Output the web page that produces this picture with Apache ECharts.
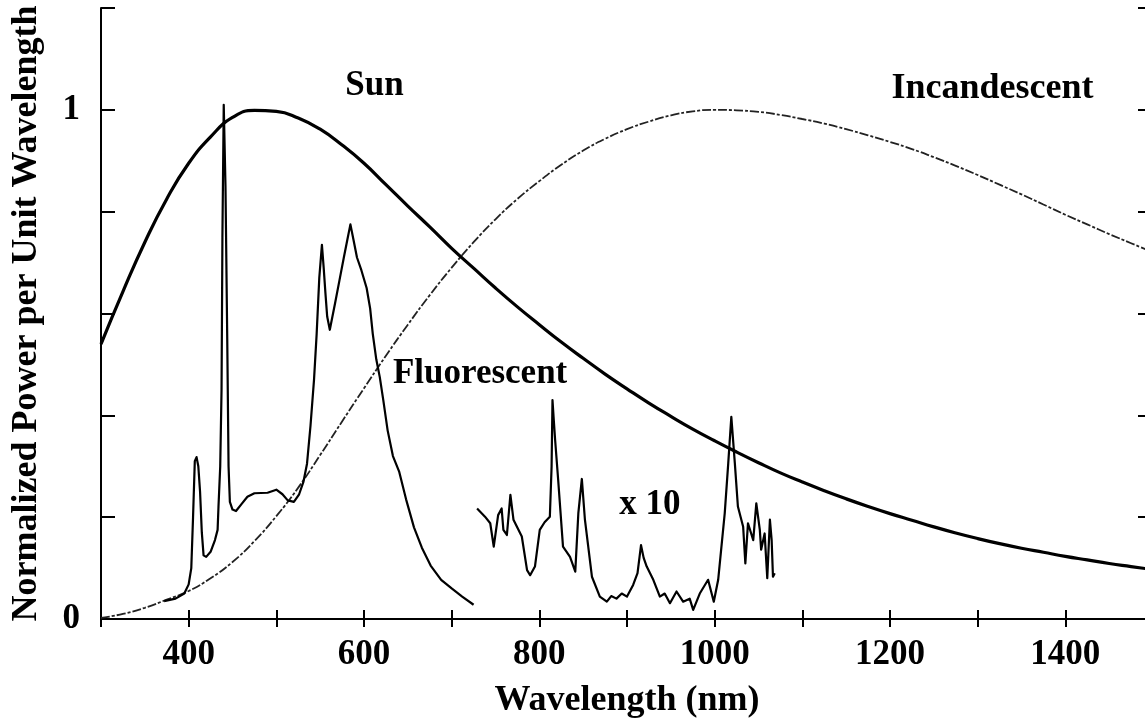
<!DOCTYPE html>
<html>
<head>
<meta charset="utf-8">
<title>Normalized spectra of light sources</title>
<script src="https://cdn.jsdelivr.net/npm/echarts@6/dist/echarts.min.js"></script>
<style>
  html, body { margin: 0; padding: 0; background: #fff; }
  #chart { width: 1145px; height: 719px; }
</style>
</head>
<body>
<div id="chart"></div>
<script>
// Common wavelength grid (nm) for the two smooth curves
const smoothWavelength = [300, 325, 350, 375, 400, 425, 450, 475, 500, 525, 550, 575, 600, 625, 650, 675, 700, 725, 750, 775, 800, 825, 850, 875, 900, 925, 950, 975, 1000, 1025, 1050, 1075, 1100, 1125, 1150, 1175, 1200, 1225, 1250, 1275, 1300, 1325, 1350, 1375, 1400, 1425, 1450, 1475, 1500];

// Sun spectrum, normalized to its peak
const sunPower = [0.54, 0.643, 0.74, 0.825, 0.895, 0.947, 0.985, 0.999, 0.997, 0.984, 0.962, 0.931, 0.895, 0.853, 0.811, 0.770, 0.728, 0.689, 0.650, 0.613, 0.578, 0.544, 0.512, 0.481, 0.452, 0.424, 0.398, 0.373, 0.350, 0.328, 0.307, 0.287, 0.269, 0.252, 0.236, 0.221, 0.207, 0.194, 0.181, 0.169, 0.158, 0.148, 0.139, 0.131, 0.123, 0.116, 0.109, 0.103, 0.097];

// Incandescent lamp spectrum, normalized to its peak
const incPower = [0.002, 0.010, 0.022, 0.038, 0.055, 0.080, 0.112, 0.153, 0.202, 0.258, 0.322, 0.388, 0.453, 0.517, 0.578, 0.636, 0.690, 0.740, 0.785, 0.825, 0.860, 0.892, 0.920, 0.943, 0.962, 0.977, 0.989, 0.997, 1.0, 0.999, 0.996, 0.990, 0.982, 0.973, 0.962, 0.950, 0.937, 0.923, 0.907, 0.890, 0.872, 0.853, 0.834, 0.814, 0.794, 0.775, 0.756, 0.738, 0.720];

// Fluorescent lamp spectrum, visible part
const fluorWavelength = [372, 385, 395, 400, 403, 405, 407, 409, 411, 413, 415, 417, 420, 425, 430, 433, 434, 436, 437.5, 438.5, 440, 442, 444, 445.5, 447, 450, 454, 460, 467, 475, 490, 500, 507, 513, 520, 526, 531, 535, 539, 543, 546, 549, 552, 554, 556, 558, 561, 567, 572, 577, 581, 584.5, 588, 592, 597, 603, 607, 610, 614, 618, 622, 627, 633, 640, 648, 657, 666, 676, 688, 700, 712, 725];
const fluorPower = [0.035, 0.04, 0.05, 0.068, 0.1, 0.2, 0.31, 0.318, 0.3, 0.25, 0.17, 0.125, 0.122, 0.132, 0.155, 0.175, 0.22, 0.3, 0.45, 0.75, 1.01, 0.85, 0.55, 0.3, 0.23, 0.215, 0.212, 0.225, 0.24, 0.247, 0.248, 0.254, 0.245, 0.233, 0.23, 0.245, 0.27, 0.305, 0.38, 0.47, 0.56, 0.67, 0.735, 0.69, 0.64, 0.594, 0.568, 0.62, 0.665, 0.71, 0.745, 0.775, 0.745, 0.71, 0.685, 0.65, 0.61, 0.56, 0.51, 0.475, 0.43, 0.37, 0.32, 0.29, 0.235, 0.18, 0.14, 0.105, 0.077, 0.06, 0.044, 0.028];

// Fluorescent lamp spectrum, near-infrared part (scaled x 10)
const fluorIrWavelength = [729, 738, 744, 748, 753, 757, 759, 763, 767, 770.5, 780, 786, 789.5, 795, 800.5, 806, 812, 814, 815, 816.5, 818, 821.5, 827, 835, 841, 844.5, 848.5, 852, 860, 869, 877, 882, 888, 894, 900, 907, 912, 916, 919, 922.5, 930, 937.5, 943, 949, 956.5, 964, 971.5, 975.5, 983, 992.5, 999, 1004, 1011.5, 1015.5, 1019, 1023, 1026.5, 1032.5, 1035, 1038, 1044, 1047.5, 1051.5, 1053, 1057, 1060, 1063, 1065, 1066.5, 1068.5];
const fluorIrPower = [0.217, 0.201, 0.188, 0.142, 0.204, 0.217, 0.175, 0.165, 0.244, 0.195, 0.162, 0.096, 0.086, 0.103, 0.175, 0.19, 0.201, 0.3, 0.43, 0.39, 0.352, 0.273, 0.142, 0.122, 0.093, 0.208, 0.275, 0.195, 0.083, 0.044, 0.034, 0.045, 0.04, 0.05, 0.044, 0.067, 0.09, 0.145, 0.12, 0.103, 0.077, 0.044, 0.05, 0.031, 0.054, 0.034, 0.04, 0.018, 0.05, 0.077, 0.034, 0.077, 0.208, 0.306, 0.397, 0.306, 0.221, 0.181, 0.109, 0.188, 0.155, 0.227, 0.175, 0.136, 0.168, 0.08, 0.195, 0.155, 0.083, 0.09];

// Curve annotations
const annotationText = ['Sun', 'Incandescent', 'Fluorescent', 'x 10'];

const FONT = '"Times New Roman", "Liberation Serif", "DejaVu Serif", serif';
const zip = (xs, ys) => xs.map((x, i) => [x, ys[i]]);

const chart = echarts.init(document.getElementById('chart'), null, { renderer: 'canvas' });

const axisLineStyle = { color: '#000', width: 2 };
const tickText = { fontFamily: FONT, fontWeight: 'bold', fontSize: 35, color: '#000' };
const titleText = { fontFamily: FONT, fontWeight: 'bold', fontSize: 36, color: '#000' };

const option = {
  backgroundColor: '#fff',
  animation: false,
  grid: { left: 101, top: 8, right: -8, bottom: 100, outerBoundsMode: 'none', containLabel: false },
  xAxis: [
    {
      type: 'value', min: 300, max: 1500, interval: 100, position: 'bottom',
      axisLine: { show: true, lineStyle: axisLineStyle },
      axisTick: { show: true, inside: true, length: 9, lineStyle: axisLineStyle },
      axisLabel: {
        margin: 18, ...tickText,
        formatter: v => (v % 200 === 0 && v >= 400 && v <= 1400) ? String(v) : ''
      },
      splitLine: { show: false },
      name: 'Wavelength (nm)', nameLocation: 'middle', nameGap: 64,
      nameTextStyle: { ...titleText }
    },
    {
      type: 'value', min: 300, max: 1500, interval: 100, position: 'top',
      axisLine: { show: true, lineStyle: axisLineStyle },
      axisTick: { show: true, inside: true, length: 8, lineStyle: axisLineStyle },
      axisLabel: { show: false }, splitLine: { show: false }
    }
  ],
  yAxis: [
    {
      type: 'value', min: 0, max: 1.2, interval: 0.2, position: 'left',
      axisLine: { show: true, lineStyle: axisLineStyle },
      axisTick: { show: true, inside: true, length: 14, lineStyle: axisLineStyle },
      axisLabel: {
        margin: 21, ...tickText,
        formatter: v => (Math.abs(v) < 1e-6) ? '0' : (Math.abs(v - 1) < 1e-6 ? '1' : '')
      },
      splitLine: { show: false },
      name: 'Normalized Power per Unit Wavelength', nameLocation: 'middle', nameGap: 56,
      nameTextStyle: { ...titleText }
    },
    {
      type: 'value', min: 0, max: 1.2, interval: 0.2, position: 'right',
      axisLine: { show: true, lineStyle: axisLineStyle },
      axisTick: { show: true, inside: true, length: 15, lineStyle: axisLineStyle },
      axisLabel: { show: false }, splitLine: { show: false }
    }
  ],
  series: [
    {
      name: 'Incandescent', type: 'line', data: zip(smoothWavelength, incPower),
      smooth: 0.5, showSymbol: false, symbol: 'none',
      lineStyle: { color: '#222', width: 1.8, type: [9, 2, 3, 2] }, z: 2
    },
    {
      name: 'Sun', type: 'line', data: zip(smoothWavelength, sunPower),
      smooth: 0.5, showSymbol: false, symbol: 'none',
      lineStyle: { color: '#000', width: 3.2 }, z: 3
    },
    {
      name: 'Fluorescent', type: 'line', data: zip(fluorWavelength, fluorPower),
      smooth: false, showSymbol: false, symbol: 'none',
      lineStyle: { color: '#000', width: 2.2, join: 'round' }, z: 4
    },
    {
      name: 'Fluorescent x 10', type: 'line', data: zip(fluorIrWavelength, fluorIrPower),
      smooth: false, showSymbol: false, symbol: 'none',
      lineStyle: { color: '#000', width: 2.2, join: 'round' }, z: 4
    }
  ]
};

chart.setOption(option);

// Place annotations using the chart's own coordinate system
const anchors = [
  { at: [612, 1.046], align: 'center', size: 35 },
  { at: [1317, 1.041], align: 'center', size: 36 },
  { at: [633, 0.481], align: 'left', size: 35 },
  { at: [926, 0.224], align: 'center', size: 35 }
];
const graphics = annotationText.map((t, i) => {
  const p = chart.convertToPixel({ xAxisIndex: 0, yAxisIndex: 0 }, anchors[i].at);
  return {
    type: 'text', x: p[0], y: p[1], z: 10,
    style: {
      text: t, fill: '#000',
      font: 'bold ' + anchors[i].size + 'px ' + FONT,
      textAlign: anchors[i].align, align: anchors[i].align,
      textVerticalAlign: 'middle', verticalAlign: 'middle'
    }
  };
});
chart.setOption({ graphic: graphics });
</script>
</body>
</html>
